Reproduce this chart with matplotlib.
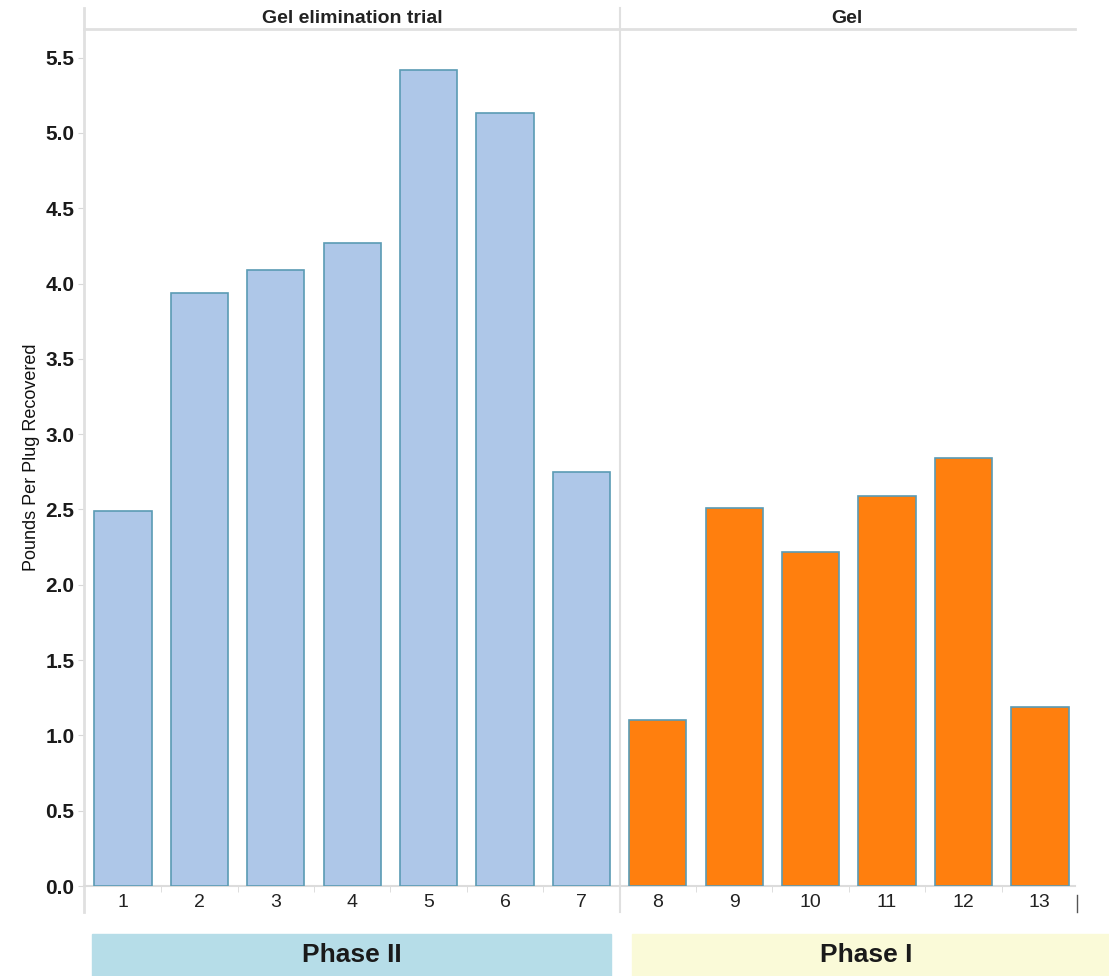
import matplotlib
matplotlib.use('Agg')
import matplotlib.pyplot as plt
from matplotlib.patches import Rectangle
import matplotlib.transforms as mtransforms

plt.rcParams['font.family'] = ['Liberation Sans', 'DejaVu Sans']

plugs = [1, 2, 3, 4, 5, 6, 7, 8, 9, 10, 11, 12, 13]
pounds = [2.49, 3.94, 4.09, 4.27, 5.42, 5.13, 2.75,
          1.10, 2.51, 2.22, 2.59, 2.84, 1.19]
groups = ['Gel elimination trial'] * 7 + ['Gel'] * 6
group_colors = {'Gel elimination trial': '#aec7e8', 'Gel': '#ff7f0e'}
phases = ['Phase II', 'Phase I']
yticks = [0.0, 0.5, 1.0, 1.5, 2.0, 2.5, 3.0, 3.5, 4.0, 4.5, 5.0, 5.5]

W, H = 1109, 976
fig = plt.figure(figsize=(W / 100, H / 100), dpi=100)
ax = fig.add_axes([84 / W, (H - 886) / H, (1075 - 84) / W, (886 - 29) / H])

colors = [group_colors[g] for g in groups]
ax.bar(plugs, pounds, width=0.75, color=colors, edgecolor='#5a9bb4', linewidth=1.2, zorder=3)

ax.set_xlim(0.49, 13.46)
ax.set_ylim(0, 5.69)
ax.set_yticks(yticks)
ax.set_yticklabels(['%.1f' % v for v in yticks], fontsize=15, fontweight='bold', color='#1a1a1a')
ax.set_xticks(plugs)
ax.set_xticklabels([str(p) for p in plugs], fontsize=14, color='#222222')
ax.tick_params(axis='x', length=0, pad=6)
ax.tick_params(axis='y', length=4, color='#d8d8d8', pad=3)
ax.set_xticks([p + 0.5 for p in plugs[:-1]], minor=True)
ax.tick_params(axis='x', which='minor', length=4, color='#d8d8d8')

for side in ['top', 'right', 'left']:
    ax.spines[side].set_visible(False)
ax.spines['bottom'].set_color('#dcdcdc')
ax.spines['bottom'].set_linewidth(1.5)

ax.set_ylabel('Pounds Per Plug Recovered', fontsize=13, color='#111111', labelpad=4)

# panel frame lines, reaching past the axes box
trans = mtransforms.blended_transform_factory(ax.transData, ax.transAxes)
ax.plot([0.49, 0.49], [-0.03, 1.025], transform=trans, color='#e0e0e0', lw=2, clip_on=False)
ax.plot([7.5, 7.5], [-0.03, 1.025], transform=trans, color='#e0e0e0', lw=1.5, clip_on=False)
ax.plot([0.49, 13.46], [1.0, 1.0], transform=trans, color='#e0e0e0', lw=2, clip_on=False)
ax.plot([13.49, 13.49], [-0.01, -0.03], transform=trans, color='#555555', lw=1, clip_on=False)

# panel headers
ax.text(4.0, 1.012, 'Gel elimination trial', transform=trans, ha='center', va='center',
        fontsize=14, fontweight='bold', color='#222222')
ax.text(10.48, 1.012, 'Gel', transform=trans, ha='center', va='center',
        fontsize=14, fontweight='bold', color='#222222')

# phase bars below the chart
boxes = [(92, 611, '#b6dde8'), (632, 1109, '#fafad8')]
for (x0, x1, c), name in zip(boxes, phases):
    fig.patches.append(Rectangle((x0 / W, 0), (x1 - x0) / W, 42 / H,
                                 transform=fig.transFigure, color=c, zorder=0))
    fig.text((x0 + x1) / 2 / W - (0 if name == 'Phase II' else 4 / W), 21 / H, name,
             ha='center', va='center', fontsize=19, fontweight='bold', color='#1a1a1a')

fig.savefig('out.png', dpi=100)
